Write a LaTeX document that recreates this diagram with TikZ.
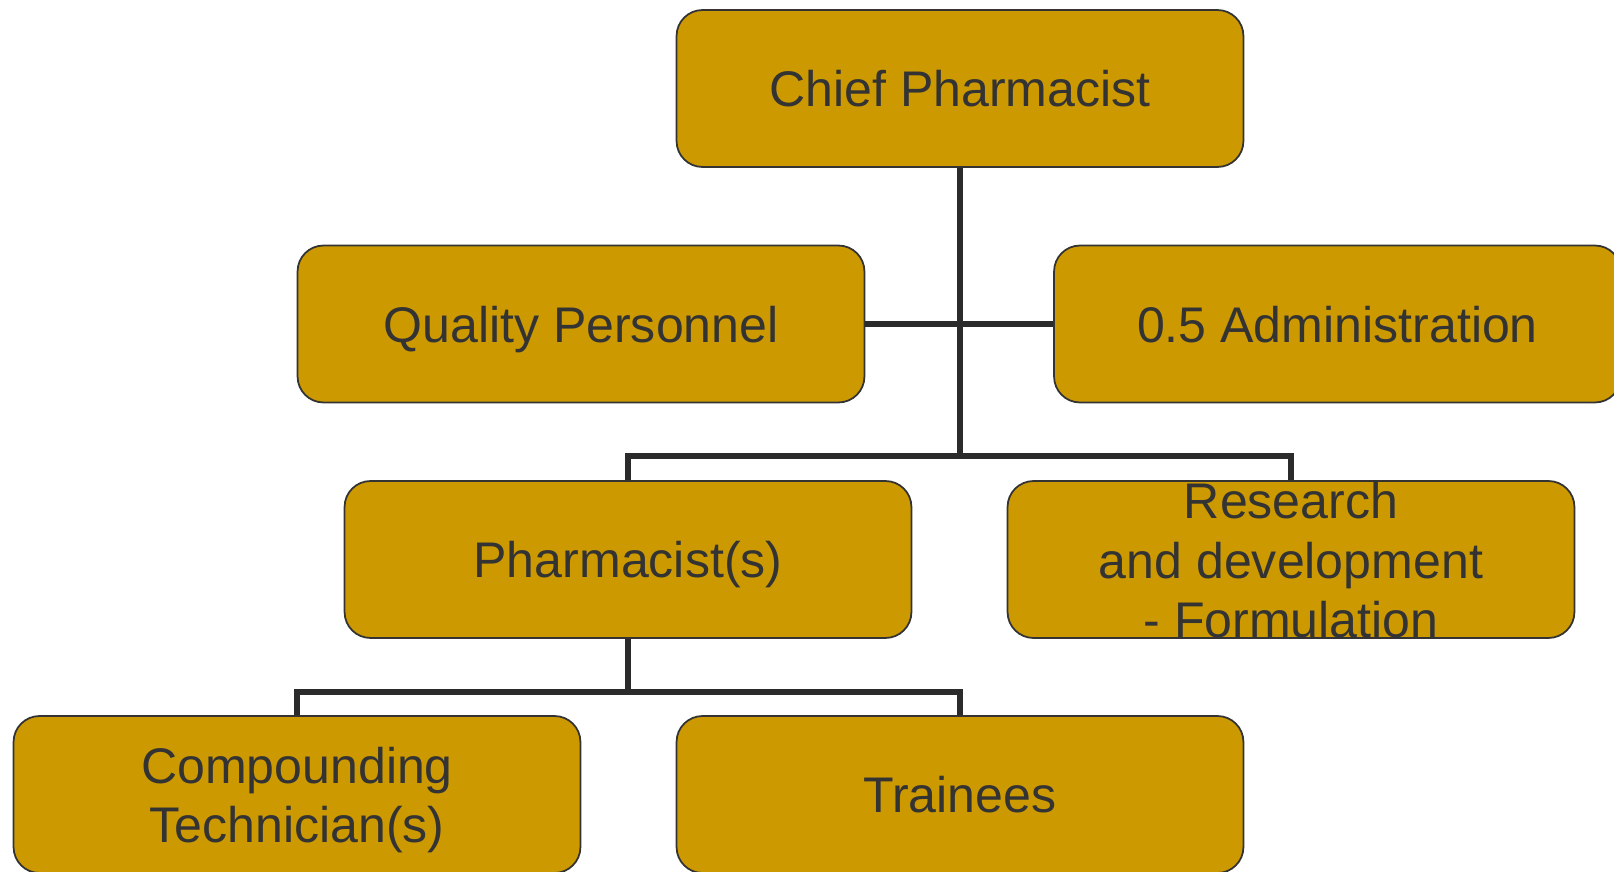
\documentclass[tikz,border=0pt]{standalone}
\usepackage{fontspec}
\setmainfont{Liberation Sans}
\usepackage{tikz}
\usetikzlibrary{positioning}
\definecolor{gold}{HTML}{CC9900}
\definecolor{ink}{HTML}{333333}
\definecolor{wire}{HTML}{2B2B2B}
\newcommand{\boxlines}[1]{\smash{\raisebox{-10pt}{\begin{tabular}{@{}c@{}}#1\end{tabular}}}}

\begin{document}
\begin{tikzpicture}[x=0.02cm,y=-0.02cm,
  post/.style={draw=ink,fill=gold,rounded corners=0.52cm,line width=1pt,
    minimum width=11.34cm,minimum height=3.14cm,inner sep=0pt,
    text height=21pt,text depth=0pt,
    align=center,text=ink,font=\fontsize{28.5}{34}\selectfont},
  link/.style={wire,line width=3pt}]
\useasboundingbox (0,0) rectangle (1614,872);
\node[post] (chief) at (960,88.5) {Chief Pharmacist};
\node[post] (quality) at (581,324) {Quality Personnel};
\node[post] (admin) at (1337.5,324) {0.5 Administration};
\node[post] (pharm) at (628,559.5) {Pharmacist(s)};
\node[post,text height=,text depth=] (rnd) at (1291,559.5) {\boxlines{Research\\and development\\- Formulation}};
\node[post,text height=,text depth=] (comp) at (297,794.5) {\boxlines{Compounding\\Technician(s)}};
\node[post] (trainee) at (960,794.5) {Trainees};
% wiring
\coordinate (hub) at (960,456);
\coordinate (hub2) at (628,692);
\draw[link] (chief) -- (hub);
\draw[link] (quality.east) -- (admin.west);
\draw[link] (pharm.north) |- (hub) -| (rnd.north);
\draw[link] (pharm) -- (hub2);
\draw[link] (comp.north) |- (hub2) -| (trainee.north);
\end{tikzpicture}
\end{document}
